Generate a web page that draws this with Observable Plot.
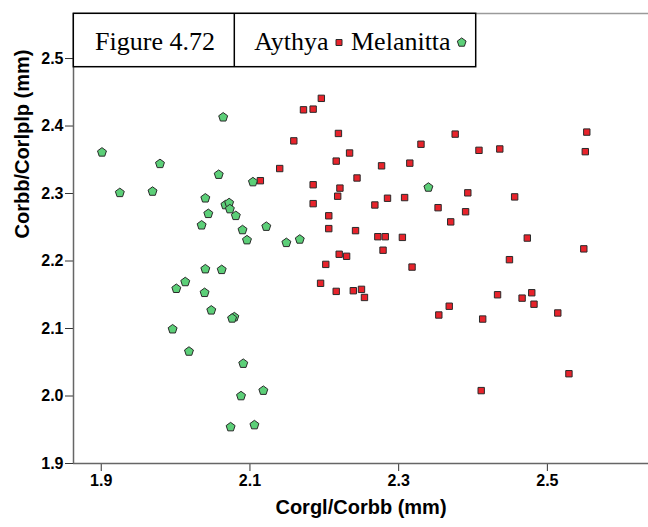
<!DOCTYPE html>
<html>
<head>
<meta charset="utf-8">
<style>
  html, body { margin: 0; padding: 0; background: white; }
</style>
</head>
<body>
<div id="chart"></div>
<script src="https://cdn.jsdelivr.net/npm/d3@7"></script>
<script src="https://cdn.jsdelivr.net/npm/@observablehq/plot@0.6"></script>
<script>
// ---- Data ----
const aythyaX = [2.196,2.172,2.185,2.159,2.140,2.114,2.185,2.185,2.206,2.206,2.202,2.195,2.219,2.234,2.216,2.221,2.218,2.244,2.277,2.315,2.330,2.376,2.408,2.436,2.553,2.551,2.285,2.308,2.268,2.393,2.353,2.390,2.456,2.370,2.242,2.272,2.282,2.305,2.279,2.220,2.230,2.318,2.473,2.549,2.449,2.216,2.239,2.250,2.254,2.368,2.354,2.413,2.433,2.466,2.479,2.482,2.514,2.529,2.411];
const aythyaY = [2.441,2.424,2.425,2.378,2.337,2.319,2.313,2.285,2.267,2.248,2.195,2.167,2.389,2.360,2.348,2.308,2.296,2.323,2.341,2.345,2.373,2.388,2.364,2.366,2.391,2.362,2.293,2.294,2.283,2.301,2.279,2.273,2.295,2.258,2.245,2.236,2.236,2.235,2.216,2.210,2.207,2.191,2.234,2.218,2.202,2.155,2.156,2.158,2.146,2.133,2.120,2.114,2.150,2.145,2.153,2.136,2.123,2.033,2.008];
const melanittaX = [1.901,1.925,1.979,1.969,2.064,2.058,2.040,2.104,2.067,2.072,2.073,2.081,2.044,2.035,2.090,2.096,2.122,2.149,2.167,2.040,2.062,2.013,2.001,2.039,2.048,2.079,2.076,1.996,2.018,2.091,2.118,2.088,2.074,2.106,2.340];
const melanittaY = [2.361,2.301,2.344,2.303,2.413,2.328,2.293,2.317,2.283,2.286,2.277,2.267,2.270,2.253,2.246,2.231,2.251,2.227,2.232,2.188,2.187,2.169,2.159,2.153,2.127,2.117,2.115,2.099,2.066,2.048,2.008,2.000,1.954,1.957,2.309];
const xTicks = [1.9, 2.1, 2.3, 2.5];
const yTicks = [1.9, 2.0, 2.1, 2.2, 2.3, 2.4, 2.5];
const xDomain = [1.8627, 2.636];
const yDomain = [1.9, 2.5667];
const xTitle = "Corgl/Corbb (mm)";
const yTitle = "Corbb/Corlplp (mm)";
const figureLabel = "Figure 4.72";
const seriesNames = ["Aythya", "Melanitta"];

const aythya = aythyaX.map((x, i) => ({x, y: aythyaY[i]}));
const melanitta = melanittaX.map((x, i) => ({x, y: melanittaY[i]}));

const pentagon = {
  draw(context, size) {
    const r = Math.sqrt(size / Math.PI);
    for (let i = 0; i < 5; i++) {
      const a = -Math.PI / 2 + i * 2 * Math.PI / 5;
      const px = r * Math.cos(a), py = r * Math.sin(a);
      if (i === 0) context.moveTo(px, py); else context.lineTo(px, py);
    }
    context.closePath();
  }
};

const RED = "#e8232b", GREEN = "#5ccf78";

const chart = Plot.plot({
  width: 648,
  height: 527,
  marginLeft: 73,
  marginTop: 13,
  marginRight: 0,
  marginBottom: 64,
  style: {fontFamily: "'Liberation Sans', Arial, sans-serif", fontSize: "16px", fontWeight: "bold", background: "white", overflow: "visible"},
  x: {domain: xDomain},
  y: {domain: yDomain},
  marks: [
    Plot.axisX({ticks: xTicks, tickFormat: d => d.toFixed(1), tickSize: 8, tickPadding: 3, label: null, stroke: "#333", fontSize: 16}),
    Plot.axisY({ticks: yTicks, tickFormat: d => d.toFixed(1), tickSize: 8, tickPadding: 2, label: null, stroke: "#333", fontSize: 16}),
    Plot.ruleY([yDomain[1]], {stroke: "#9a9a9a", strokeWidth: 1.5}),
    Plot.ruleY([yDomain[0]], {stroke: "#666", strokeWidth: 1.5}),
    Plot.ruleX([xDomain[0]], {stroke: "#666", strokeWidth: 1.5}),
    Plot.dot(aythya, {x: "x", y: "y", symbol: "square", r: 3.6, fill: RED, stroke: "#2a2a2a", strokeWidth: 1}),
    Plot.dot(melanitta, {x: "x", y: "y", symbol: pentagon, r: 4.7, fill: GREEN, stroke: "#2a2a2a", strokeWidth: 1}),
    Plot.text([xTitle], {text: d => d, frameAnchor: "bottom", dy: 50, fontSize: 20, fontWeight: "bold", fill: "black"}),
    Plot.text([yTitle], {text: d => d, frameAnchor: "left", dx: -51, rotate: -90, fontSize: 20, fontWeight: "bold", fill: "black"})
  ]
});
document.getElementById("chart").appendChild(chart);

// ---- Title / legend box ----
const svg = d3.select(chart);
const g = svg.append("g");
g.append("rect").attr("x", 73.3).attr("y", 13.3).attr("width", 402.4).attr("height", 53.4)
  .attr("fill", "white").attr("stroke", "black").attr("stroke-width", 1.5);
g.append("line").attr("x1", 234.3).attr("x2", 234.3).attr("y1", 13.3).attr("y2", 66.7)
  .attr("stroke", "black").attr("stroke-width", 1.5);
function serifText(x, y, str, anchor) {
  return g.append("text").attr("x", x).attr("y", y).attr("text-anchor", anchor || "start")
    .style("font-family", "'Liberation Serif', 'Times New Roman', serif")
    .style("font-size", "26px").style("font-weight", "normal").style("fill", "black")
    .text(str);
}
serifText(155, 50, figureLabel, "middle");
serifText(254.3, 50, seriesNames[0]);
g.append("path").attr("transform", "translate(339,42.5)").attr("d", d3.symbol(d3.symbolSquare, 36)())
  .attr("fill", RED).attr("stroke", "#2a2a2a").attr("stroke-width", 1);
serifText(351, 50, seriesNames[1]);
g.append("path").attr("transform", "translate(461.7,42.5)").attr("d", d3.symbol(pentagon, Math.PI * 4.6 * 4.6)())
  .attr("fill", GREEN).attr("stroke", "#2a2a2a").attr("stroke-width", 1);
</script>
</body>
</html>
